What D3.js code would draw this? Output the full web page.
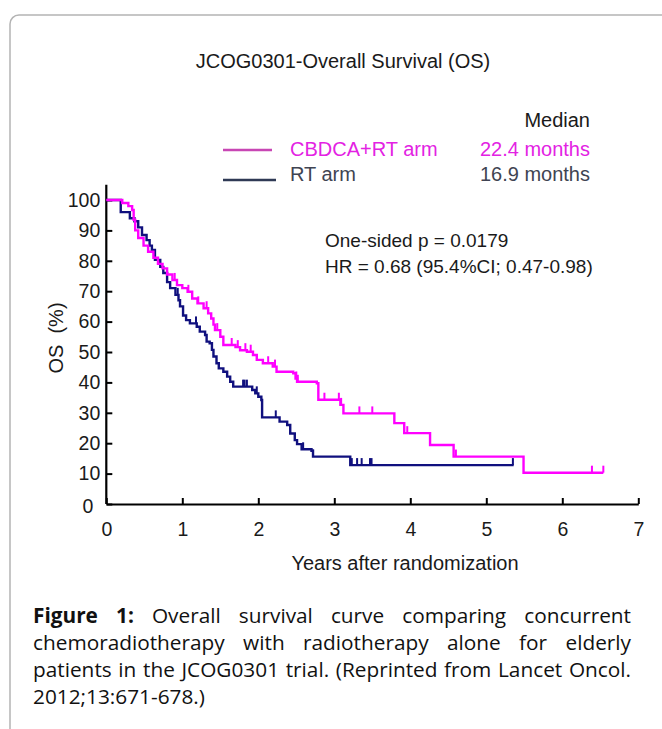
<!doctype html>
<html lang="en">
    <head>
        <meta charset="utf-8">
        <title>JCOG0301 - Overall Survival</title>
        <style type="text/css">
            body{
                margin:0;
                background:#fff;
            }
            svg text{
                font-family: "Liberation Sans", Arial, Helvetica, sans-serif;
                fill:#1a1a1a;
            }
            svg text.caption{
                font-family: "Open Sans", sans-serif;
                font-size:20.8px;
                fill:#111;
            }
        </style>
    </head>
    <body>
        <svg id="fig" width="662" height="729"></svg>
        <script src="https://d3js.org/d3.v7.min.js"></script>
        <script type="text/javascript">
            // axis ticks
            var tickYears = [0, 1, 2, 3, 4, 5, 6, 7];
            var tickPct = [0, 10, 20, 30, 40, 50, 60, 70, 80, 90, 100];

            // CBDCA+RT arm: step times (years) and survival (%)
            var cbdcaTime = [0, 0.21, 0.29, 0.34, 0.36, 0.38, 0.42, 0.49, 0.55, 0.62, 0.68, 0.74, 0.80, 0.87, 0.93, 1.00, 1.07, 1.13, 1.20, 1.28, 1.34, 1.38, 1.41, 1.43, 1.50, 1.54, 1.70, 1.76, 1.85, 1.93, 1.98, 2.06, 2.19, 2.24, 2.46, 2.49, 2.51, 2.77, 2.79, 3.08, 3.12, 3.79, 3.92, 4.26, 4.57, 5.49];
            var cbdcaSurv = [100, 99, 98, 96.7, 93.5, 90, 87.5, 85, 83, 81, 79, 77.5, 75.5, 73.7, 72, 71, 69.8, 67.6, 66, 64.4, 62.7, 61, 59, 57.2, 55, 52.3, 51.6, 50.6, 50.1, 49, 47.4, 46.3, 45.2, 43.5, 43, 41.3, 40.2, 39.7, 34.3, 32.6, 29.8, 26.6, 23.3, 19.4, 15.6, 10.3];
            var cbdcaCensor = [0.90, 1.08, 1.21, 1.32, 1.46, 1.65, 1.73, 1.83, 1.90, 2.13, 2.22, 2.50, 2.52, 2.87, 3.06, 3.09, 3.33, 3.50, 3.96, 4.60, 6.39, 6.54];
            var cbdcaEnd = 6.54;

            // RT arm
            var rtTime = [0, 0.19, 0.31, 0.37, 0.42, 0.47, 0.53, 0.57, 0.60, 0.64, 0.71, 0.75, 0.80, 0.84, 0.91, 0.95, 0.97, 1.01, 1.05, 1.10, 1.19, 1.23, 1.30, 1.32, 1.36, 1.39, 1.41, 1.45, 1.48, 1.54, 1.59, 1.63, 1.67, 1.92, 1.96, 2.00, 2.04, 2.05, 2.28, 2.38, 2.42, 2.48, 2.51, 2.57, 2.70, 2.72, 3.21];
            var rtSurv = [100, 96, 94, 93, 91, 88.5, 86.8, 85, 83.6, 80.3, 78, 76, 73, 71, 68.8, 67, 65, 62, 60.5, 59.4, 58.3, 56.7, 55.6, 53.4, 52.9, 50.7, 48.5, 46.3, 44.6, 43.5, 41.9, 40.2, 38.6, 37.5, 36.4, 35.3, 34.2, 28.5, 27.1, 26, 23.2, 21, 19.7, 18, 17.5, 15.6, 12.8];
            var rtCensor = [0.94, 1.18, 1.80, 1.82, 1.85, 1.98, 2.23, 2.59, 2.72, 3.23, 3.30, 3.36, 3.47, 3.49, 5.35];
            var rtEnd = 5.36;

            var armNames = ['CBDCA+RT arm', 'RT arm'];
            var armMedians = ['22.4 months', '16.9 months'];

            var captionLines = [
                'Figure 1: Overall survival curve comparing concurrent',
                'chemoradiotherapy with radiotherapy alone for elderly',
                'patients in the JCOG0301 trial. (Reprinted from Lancet Oncol.',
                '2012;13:671-678.)'
            ];

            var magenta = '#ff00ff', navy = '#10107e';

            var svg = d3.select('#fig');

            // card frame
            svg.append('rect').attr('x', 10).attr('y', 15).attr('width', 720).attr('height', 800).attr('rx', 9)
                .style('fill', 'none').style('stroke', '#b4b4b4').style('stroke-width', 1.5);

            var x = d3.scaleLinear().domain([0, 7]).range([106.3, 638.3]),
                y = d3.scaleLinear().domain([0, 100]).range([504, 200]);

            svg.append('text').attr('x', 343).attr('y', 68).attr('text-anchor', 'middle')
                .style('font-size', '20px').text('JCOG0301-Overall Survival (OS)');

            // legend
            svg.append('text').attr('x', 590).attr('y', 127).attr('text-anchor', 'end')
                .style('font-size', '20px').text('Median');

            var legend = svg.append('g');
            var legendLine = ['#c846b4', '#2f3a55'],
                legendY = [156, 181],
                lineY = [150, 180],
                lineEnd = [272, 276];
            armNames.forEach(function(name, i){
                legend.append('line').attr('x1', 223).attr('x2', lineEnd[i]).attr('y1', lineY[i]).attr('y2', lineY[i])
                    .style('stroke', legendLine[i]).style('stroke-width', 2.5);
                legend.append('text').attr('x', 290).attr('y', legendY[i]).style('font-size', '20px')
                    .style('fill', i === 0 ? '#e322e3' : '#404452').text(name);
                legend.append('text').attr('x', 590).attr('y', legendY[i]).attr('text-anchor', 'end').style('font-size', '20px')
                    .style('fill', i === 0 ? '#e322e3' : '#404452').text(armMedians[i]);
            });

            svg.append('text').attr('x', 325).attr('y', 247).style('font-size', '19px').text('One-sided p = 0.0179');
            svg.append('text').attr('x', 325).attr('y', 273).style('font-size', '19px').text('HR = 0.68 (95.4%CI; 0.47-0.98)');

            // axes
            var xAxis = d3.axisBottom(x).tickValues(tickYears).tickFormat(d3.format('d'))
                    .tickSizeInner(-6).tickSizeOuter(0).tickPadding(18),
                yAxis = d3.axisLeft(y).tickValues(tickPct).tickFormat(d3.format('d'))
                    .tickSizeInner(-6).tickSizeOuter(0).tickPadding(6);

            var gx = svg.append('g').attr('transform', 'translate(0,' + y(0) + ')').call(xAxis);
            var gy = svg.append('g').attr('transform', 'translate(' + x(0) + ',0)').call(yAxis);
            gy.select('.domain').remove();
            gy.append('line').attr('x1', 0).attr('x2', 0).attr('y1', y(0)).attr('y2', y(105))
                .style('stroke', '#000').style('stroke-width', 2.2);
            gy.selectAll('.tick').filter(function(d){ return d === 0; }).select('text').attr('dx', -7).attr('dy', '0.45em');

            [gx, gy].forEach(function(g){
                g.selectAll('.domain').style('stroke', '#000').style('stroke-width', 2.2);
                g.selectAll('.tick line').style('stroke', '#000').style('stroke-width', 2);
                g.selectAll('.tick text').style('font-size', '19.5px').style('fill', '#1a1a1a').style('font-family', '"Liberation Sans", Arial, sans-serif');
            });

            svg.append('text').attr('x', 405).attr('y', 570).attr('text-anchor', 'middle')
                .style('font-size', '20px').text('Years after randomization');
            svg.append('text').attr('transform', 'translate(63,338) rotate(-90)').attr('text-anchor', 'middle')
                .style('font-size', '20px').style('white-space', 'pre').text('OS  (%)');

            // KM curves
            var step = d3.line().curve(d3.curveStepAfter)
                .x(function(d){ return x(d[0]); }).y(function(d){ return y(d[1]); });

            function drawArm(times, surv, end, censor, color){
                var pts = times.map(function(t, i){ return [t, surv[i]]; });
                pts.push([end, surv[surv.length - 1]]);
                svg.append('path').datum(pts).attr('d', step)
                    .style('fill', 'none').style('stroke', color).style('stroke-width', 2.4);
                var bis = d3.bisectRight;
                svg.append('g').selectAll('line').data(censor).enter().append('line')
                    .attr('x1', function(t){ return x(t); }).attr('x2', function(t){ return x(t); })
                    .attr('y1', function(t){ return y(surv[bis(times, t) - 1]); })
                    .attr('y2', function(t){ return y(surv[bis(times, t) - 1]) - 7; })
                    .style('stroke', color).style('stroke-width', 2);
            }

            drawArm(rtTime, rtSurv, rtEnd, rtCensor, navy);
            drawArm(cbdcaTime, cbdcaSurv, cbdcaEnd, cbdcaCensor, magenta);

            // caption, justified
            var capLeft = 33, capWidth = 598, capTop = 623, capLead = 27;
            captionLines.forEach(function(line, li){
                var words = line.split(' ');
                var g = svg.append('g');
                var nodes = words.map(function(w, wi){
                    return g.append('text').attr('class', 'caption').attr('y', capTop + li * capLead)
                        .style('font-weight', (li === 0 && wi < 2) ? 700 : 400).text(w);
                });
                var widths = nodes.map(function(n){ return n.node().getComputedTextLength(); });
                var total = d3.sum(widths);
                var last = li === captionLines.length - 1;
                var gap = last ? 5.4 : (capWidth - total) / (words.length - 1);
                var pos = capLeft;
                nodes.forEach(function(n, i){
                    n.attr('x', pos);
                    pos += widths[i] + gap;
                });
            });
        </script>
    </body>
</html>
